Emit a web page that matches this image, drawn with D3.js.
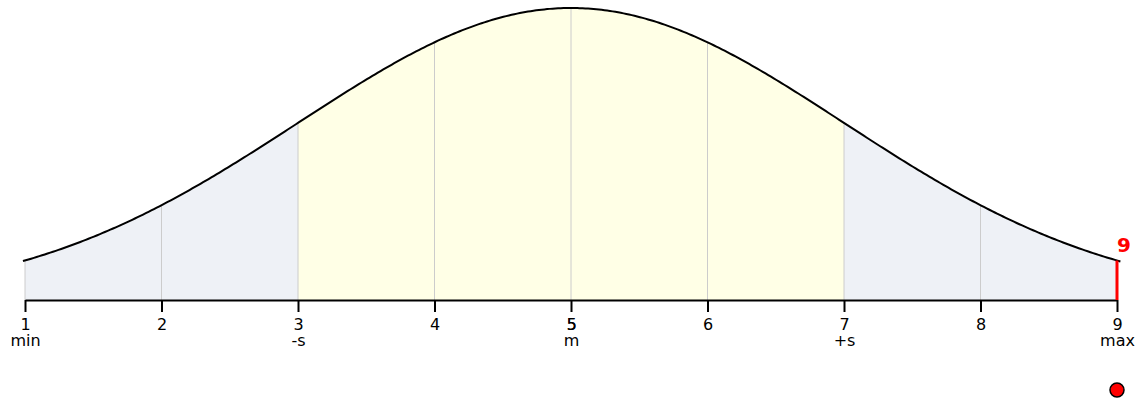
<!DOCTYPE html>
<html>
<head>
<meta charset="utf-8">
<script src="https://cdn.jsdelivr.net/npm/d3@7"></script>
<style>
  body { margin: 0; background: #fff; }
  svg { display: block; font-family: "DejaVu Sans", Verdana, sans-serif; }
</style>
</head>
<body>
<svg id="chart" width="1135" height="400"></svg>
<script>
// distribution summary
var mean = 5, sd = 2;
var minVal = 1, maxVal = 9;
var marked = 9;            // the highlighted value (red)

// axis ticks and their second line labels
var tickValues = [1, 2, 3, 4, 5, 6, 7, 8, 9];
var subLabels = ["min", "", "-s", "", "m", "", "+s", "", "max"];

var svg = d3.select("#chart"),
    width = +svg.attr("width"),
    height = +svg.attr("height");

var x = d3.scaleLinear().domain([minVal, maxVal]).range([25, 1117]);

function pdf(v) {
    return Math.exp(-0.5 * Math.pow((v - mean) / sd, 2)) / (sd * Math.sqrt(2 * Math.PI));
}

var y = d3.scaleLinear().domain([0, pdf(mean)]).range([300, 8]);

// sample the curve
var step = 0.02;
var samples = d3.range(minVal, maxVal + step / 2, step);
samples[samples.length - 1] = maxVal;

var area = d3.area()
    .x(d => x(d))
    .y0(y(0))
    .y1(d => y(pdf(d)));

// tails
svg.append("path")
    .attr("d", area(samples))
    .attr("fill", "#eef1f6");

// +/- one sd band
var band = samples.filter(d => d >= mean - sd - 1e-9 && d <= mean + sd + 1e-9);
svg.append("path")
    .attr("d", area(band))
    .attr("fill", "#ffffe6");

// gridlines up to the curve
svg.selectAll(".grid")
    .data(tickValues)
    .enter().append("line")
    .attr("x1", d => x(d)).attr("x2", d => x(d))
    .attr("y1", y(0)).attr("y2", d => y(pdf(d)))
    .attr("stroke", "#cccccc")
    .attr("stroke-width", 1);

// curve, a touch past the ends
var curvePts = d3.range(minVal - 0.015, maxVal + 0.035, step);
svg.append("path")
    .attr("d", d3.line().x(d => x(d)).y(d => y(pdf(d)))(curvePts))
    .attr("fill", "none")
    .attr("stroke", "#000")
    .attr("stroke-width", 2);

// axis
var axis = d3.axisBottom(x)
    .tickValues(tickValues)
    .tickSize(12)
    .tickSizeOuter(0)
    .tickFormat(d3.format("d"));

var gx = svg.append("g")
    .attr("transform", "translate(0," + y(0) + ")")
    .call(axis)
    .attr("font-size", 16)
    .attr("font-family", "DejaVu Sans, Verdana, sans-serif");
gx.select(".domain").attr("stroke", "#000").attr("stroke-width", 2);
gx.selectAll(".tick line").attr("stroke", "#000").attr("stroke-width", 2);
gx.selectAll(".tick text")
    .attr("y", 29.5)
    .attr("dy", null)
    .attr("fill", "#000");

gx.selectAll(".tick").append("text")
    .attr("y", 46)
    .attr("fill", "#000")
    .text((d, i) => subLabels[i]);

// mean label drawn again (appears heavier)
gx.selectAll(".tick").filter(d => d === mean).append("text")
    .attr("y", 29.5)
    .attr("x", 0.3)
    .attr("fill", "#000")
    .text(mean);

// highlighted value
svg.append("line")
    .attr("x1", x(marked)).attr("x2", x(marked))
    .attr("y1", y(0)).attr("y2", y(pdf(marked)))
    .attr("stroke", "red")
    .attr("stroke-width", 3);

svg.append("text")
    .attr("x", x(marked) + 7)
    .attr("y", y(pdf(marked)) - 8)
    .attr("text-anchor", "middle")
    .attr("fill", "red")
    .attr("font-weight", "bold")
    .attr("font-size", 20)
    .text(marked);

svg.append("circle")
    .attr("cx", x(marked))
    .attr("cy", 390)
    .attr("r", 7)
    .attr("fill", "red")
    .attr("stroke", "#000")
    .attr("stroke-width", 1.5);
</script>
</body>
</html>
